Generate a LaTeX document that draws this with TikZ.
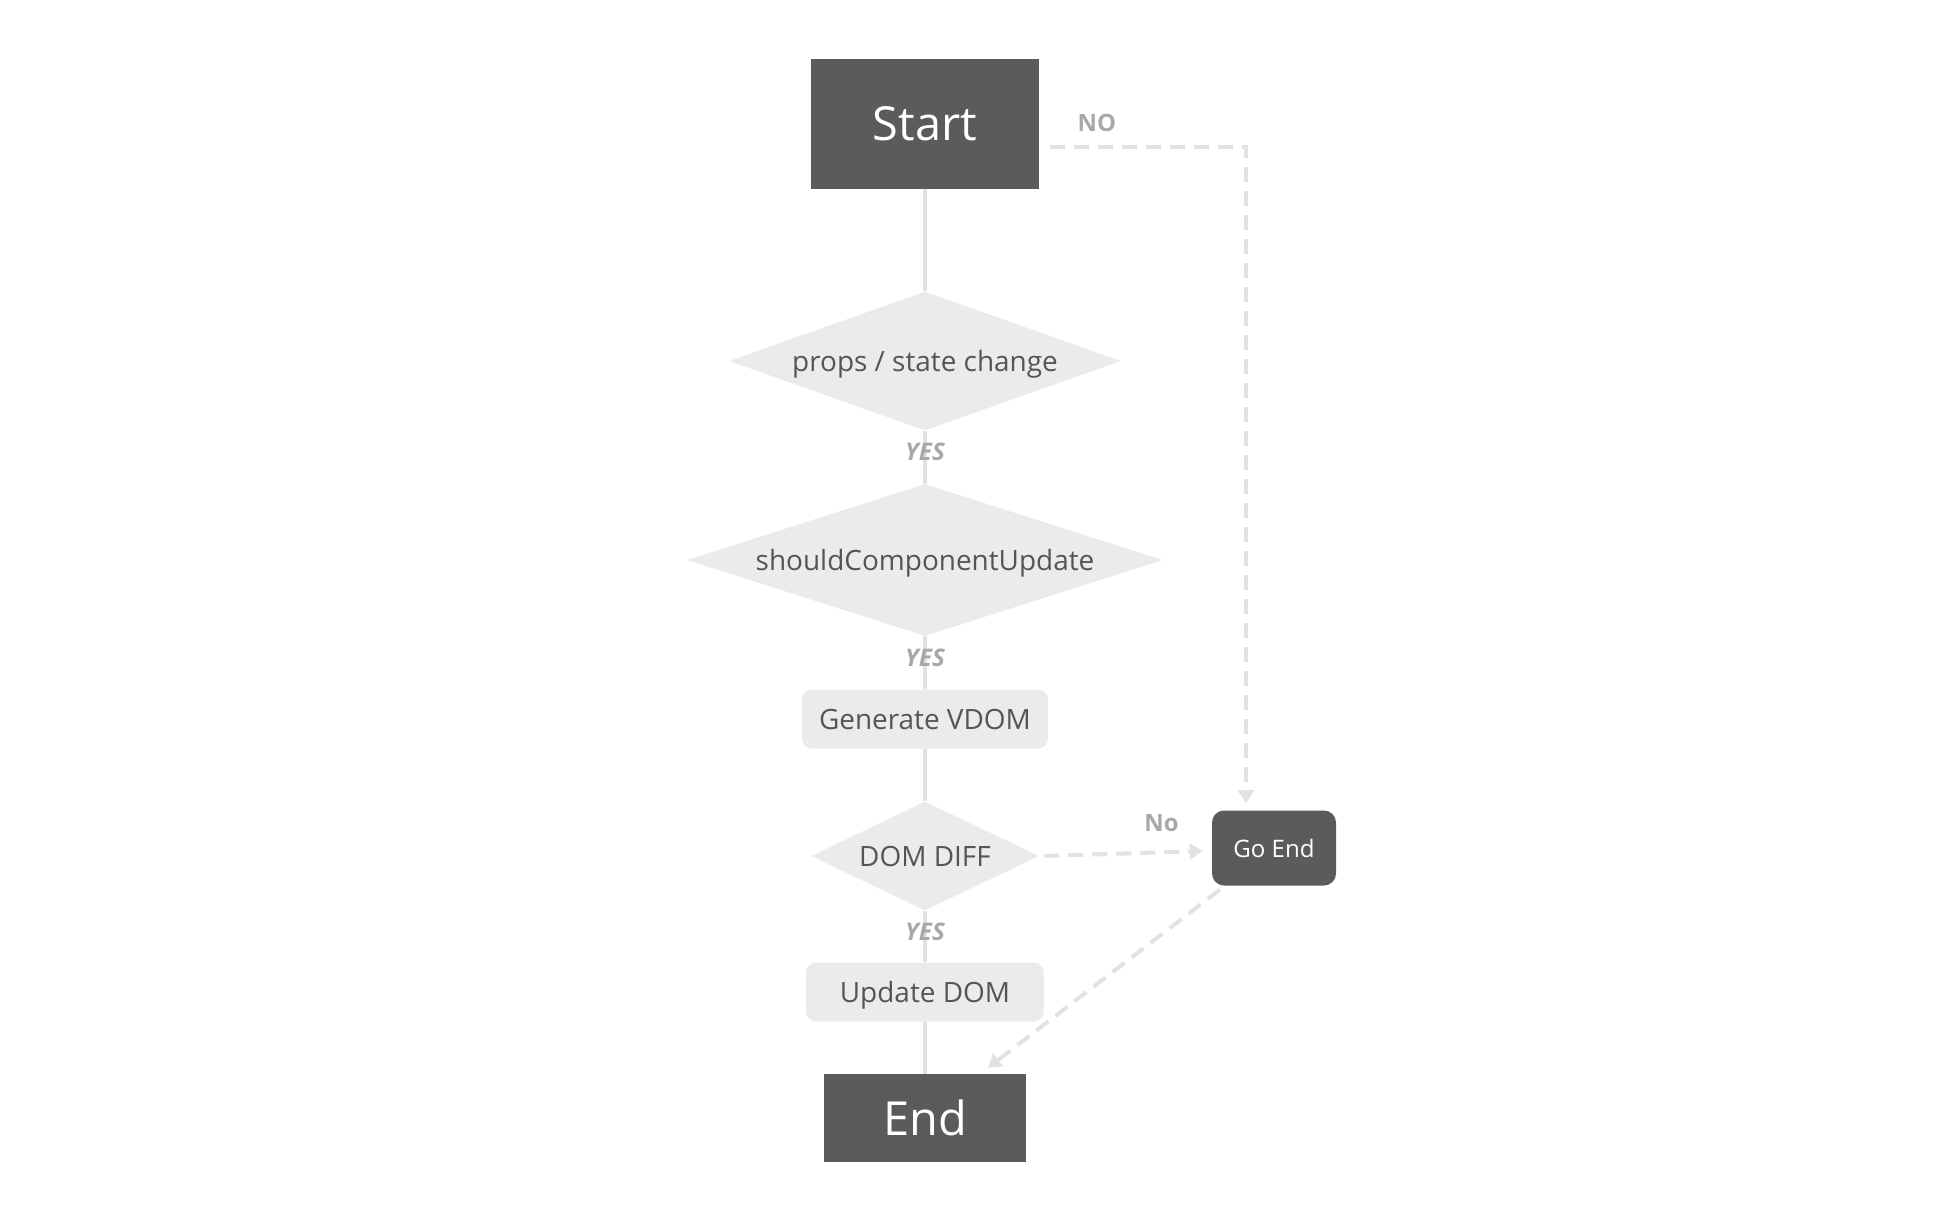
\documentclass[tikz,border=0pt]{standalone}
\usepackage{fontspec}
\setmainfont{Open Sans}
\usepackage{tikz}
\usetikzlibrary{arrows.meta}
\usetikzlibrary{shapes.geometric}

\definecolor{boxdark}{HTML}{5B5B5B}
\definecolor{boxlight}{HTML}{EBEBEB}
\definecolor{textdark}{HTML}{555555}
\definecolor{linegray}{HTML}{E2E2E2}
\definecolor{labelgray}{HTML}{A8A8A8}

\begin{document}
\begin{tikzpicture}[x=0.02cm,y=-0.02cm,
    termbox/.style={rectangle,fill=boxdark,text=white,inner sep=0pt,
        font=\fontsize{26.7}{32}\selectfont},
    stepbox/.style={rectangle,rounded corners=0.2cm,fill=boxlight,text=textdark,
        inner sep=0pt,minimum height=1.18cm,text height=11.5pt,text depth=0pt,
        font=\fontsize{15.9}{19}\selectfont},
    decision/.style={diamond,fill=boxlight,text=textdark,inner sep=0pt,
        text height=11.5pt,text depth=0pt,font=\fontsize{15.9}{19}\selectfont},
    flowline/.style={draw=linegray,line width=2.3pt},
    dashline/.style={flowline,dash pattern=on 0.3cm off 0.18cm,
        -{Triangle[width=0.32cm,length=0.26cm]}},
    yeslabel/.style={text=labelgray,inner sep=0pt,yshift=0.1cm,
        font=\fontsize{13.8}{16}\selectfont\bfseries\itshape},
    nolabel/.style={text=labelgray,inner sep=0pt,
        font=\fontsize{13.6}{16}\selectfont\bfseries}
    ]
\useasboundingbox (0,0) rectangle (1936,1218);

\node[termbox,minimum width=4.58cm,minimum height=2.6cm] (start) at (925,124) {Start};
\node[decision,minimum width=7.84cm,minimum height=2.78cm,shape aspect=2.82] (change) at (925,361) {props / state change};
\node[decision,minimum width=9.52cm,minimum height=3.04cm,shape aspect=3.13] (scu) at (925,560) {shouldComponentUpdate};
\node[stepbox,minimum width=4.92cm] (vdom) at (925,719) {Generate VDOM};
\node[decision,minimum width=4.56cm,minimum height=2.18cm,shape aspect=2.09] (diff) at (925,856) {DOM DIFF};
\node[stepbox,minimum width=4.76cm] (update) at (925,992) {Update DOM};
\node[termbox,minimum width=4.04cm,minimum height=1.76cm] (end) at (925,1118) {End};
\node[termbox,rounded corners=0.24cm,minimum width=2.48cm,minimum height=1.5cm,
    font=\fontsize{13.7}{16}\selectfont] (goend) at (1274,848) {Go End};

\draw[flowline] (start) -- (change);
\draw[flowline] (change) -- node[yeslabel] {YES} (scu);
\draw[flowline] (scu) -- node[yeslabel] {YES} (vdom);
\draw[flowline] (vdom) -- (diff);
\draw[flowline] (diff) -- node[yeslabel] {YES} (update);
\draw[flowline] (update) -- (end);

\draw[dashline] ([xshift=0.2cm,yshift=-0.46cm]start.east) -| node[nolabel,pos=0.12,yshift=0.48cm] {NO} ([xshift=-0.56cm,yshift=0.14cm]goend.north);
\draw[dashline] ([xshift=0.1cm]diff.east) -- node[nolabel,pos=0.74,yshift=0.58cm] {No} ([xshift=-0.18cm,yshift=-0.06cm]goend.west);
\draw[dashline] ([xshift=0.16cm,yshift=-0.08cm]goend.south west) -- ([xshift=1.26cm,yshift=0.12cm]end.north);
\end{tikzpicture}
\end{document}
